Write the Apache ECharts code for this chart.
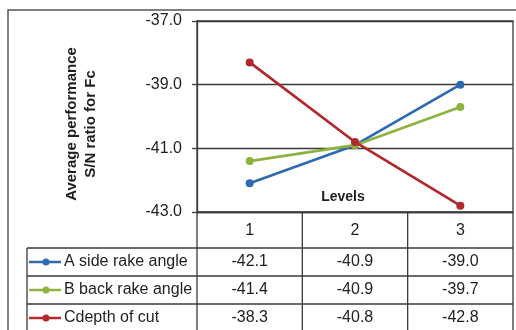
<!DOCTYPE html>
<html>
<head>
<meta charset="utf-8">
<script src="https://cdn.jsdelivr.net/npm/echarts@6/dist/echarts.min.js"></script>
<style>
html,body{margin:0;padding:0;background:#fff;}
#c{width:516px;height:330px;}
</style>
</head>
<body>
<div id="c"></div>
<script>
const levels = ['1', '2', '3'];
const seriesNames = ['A side rake angle', 'B back rake angle', 'Cdepth of cut'];
const sideRake = [-42.1, -40.9, -39.0];
const backRake = [-41.4, -40.9, -39.7];
const depthCut = [-38.3, -40.8, -42.8];
const yTicks = [-43, -41, -39, -37];
const colors = ['#2f69b0', '#8cb33f', '#b3282d'];

const allValues = [sideRake, backRake, depthCut];
const FONT = '"Liberation Sans", Arial, sans-serif';
const G = { left: 197, top: 21, width: 316, height: 191 };
const lineCol = '#3a3a3a';
const rowY = [248, 276, 304, 332];
const tableLeft = 27;
const right = G.left + G.width;
const bottom = G.top + G.height;

const graphic = [];
// outer frame
graphic.push({ type: 'rect', shape: { x: 8, y: 10, width: 520, height: 340 }, style: { fill: 'none', stroke: '#555', lineWidth: 1.5 }, z: 1 });
// horizontal table lines
rowY.forEach(y => graphic.push({ type: 'line', shape: { x1: tableLeft, y1: y, x2: right, y2: y }, style: { stroke: lineCol, lineWidth: 1.3 }, z: 5 }));
// vertical table lines
graphic.push({ type: 'line', shape: { x1: tableLeft, y1: rowY[0], x2: tableLeft, y2: 340 }, style: { stroke: lineCol, lineWidth: 1.3 }, z: 5 });
for (let i = 0; i <= levels.length; i++) {
  const x = G.left + G.width * i / levels.length;
  graphic.push({ type: 'line', shape: { x1: x, y1: bottom, x2: x, y2: 340 }, style: { stroke: lineCol, lineWidth: 1.3 }, z: 5 });
}
// rows: legend key + name + values
for (let s = 0; s < seriesNames.length; s++) {
  const cy = (rowY[s] + rowY[s + 1]) / 2;
  graphic.push({ type: 'line', shape: { x1: 29, y1: cy, x2: 61, y2: cy }, style: { stroke: colors[s], lineWidth: 2.5 }, z: 6 });
  graphic.push({ type: 'circle', shape: { cx: 46, cy: cy, r: 3.5 }, style: { fill: colors[s] }, z: 7 });
  graphic.push({ type: 'text', x: 64, y: cy, style: { text: seriesNames[s], font: '16px ' + FONT, fill: '#1e1e1e', align: 'left', verticalAlign: 'middle' }, z: 6 });
  for (let i = 0; i < levels.length; i++) {
    const cx = G.left + G.width * (i + 0.5) / levels.length;
    graphic.push({ type: 'text', x: cx, y: cy, style: { text: allValues[s][i].toFixed(1), font: '16px ' + FONT, fill: '#1e1e1e', align: 'center', verticalAlign: 'middle' }, z: 6 });
  }
}
// Levels label
graphic.push({ type: 'text', x: 343, y: 197, style: { text: 'Levels', font: 'bold 14px ' + FONT, fill: '#1e1e1e', align: 'center', verticalAlign: 'middle' }, z: 6 });
// y axis title
graphic.push({ type: 'text', x: 81, y: 124, rotation: Math.PI / 2, style: { text: 'Average performance\nS/N ratio for Fc', font: 'bold 15px ' + FONT, lineHeight: 19, fill: '#1e1e1e', align: 'center', verticalAlign: 'middle' }, z: 6 });

const chart = echarts.init(document.getElementById('c'), null, { renderer: 'canvas' });
chart.setOption({
  animation: false,
  backgroundColor: '#fff',
  grid: { left: G.left, top: G.top, width: G.width, height: G.height, show: true, borderColor: lineCol, borderWidth: 1.3, backgroundColor: 'transparent' },
  xAxis: {
    type: 'category', data: levels, boundaryGap: true,
    axisLine: { show: true, lineStyle: { color: lineCol, width: 1.3 } },
    axisTick: { show: false },
    axisLabel: { margin: 11, fontSize: 16, fontFamily: FONT, color: '#1e1e1e' },
    splitLine: { show: false }
  },
  yAxis: {
    type: 'value', min: yTicks[0], max: yTicks[yTicks.length - 1], interval: 2,
    axisLine: { show: true, lineStyle: { color: lineCol, width: 1.3 } },
    axisTick: { show: true, length: 5, lineStyle: { color: lineCol, width: 1.3 } },
    axisLabel: { margin: 15, fontSize: 16, fontFamily: FONT, color: '#1e1e1e', formatter: v => v.toFixed(1) },
    splitLine: { show: true, lineStyle: { color: lineCol, width: 1.3 } }
  },
  series: seriesNames.map((n, s) => ({
    name: n, type: 'line', data: allValues[s],
    symbol: 'circle', symbolSize: 8,
    lineStyle: { color: colors[s], width: 2.7 },
    itemStyle: { color: colors[s] },
    z: 10 + (s === 2 ? 3 : s)
  })),
  graphic: graphic
});
</script>
</body>
</html>
